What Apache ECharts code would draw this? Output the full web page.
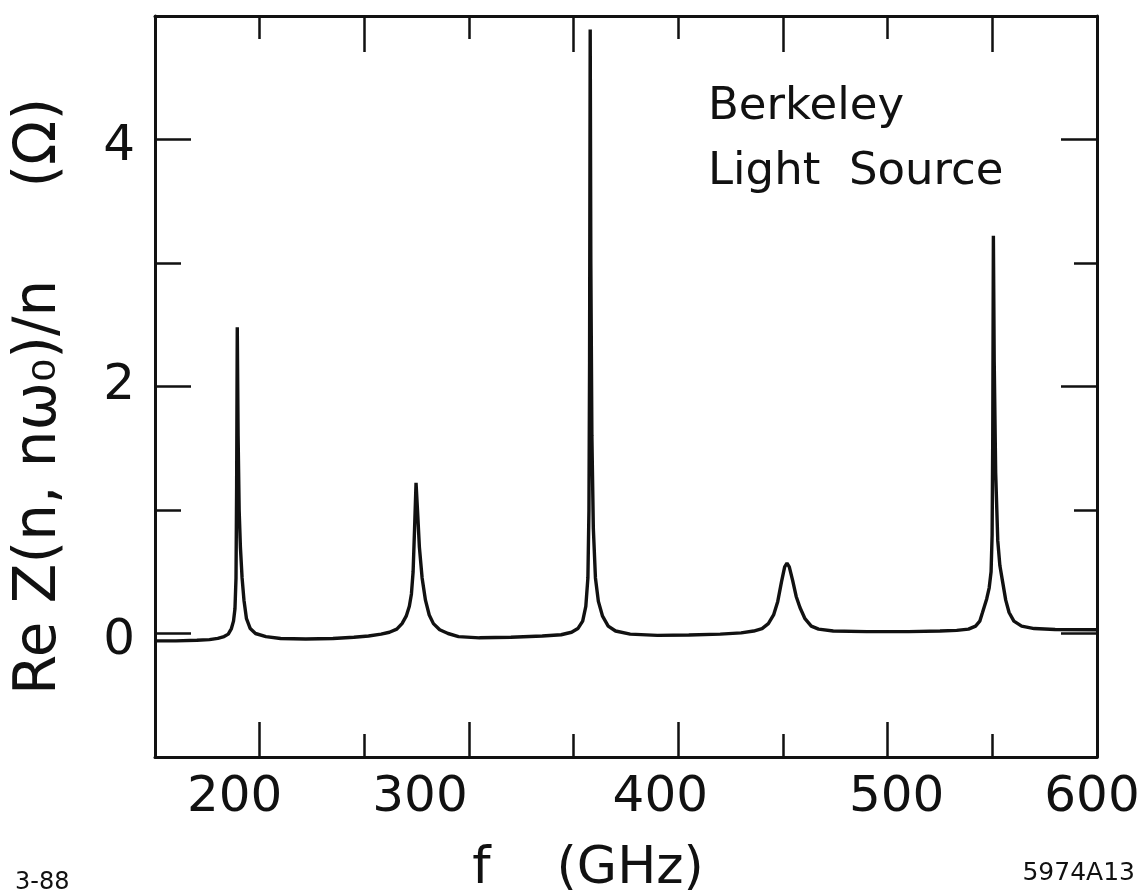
<!DOCTYPE html>
<html>
<head>
<meta charset="utf-8">
<script src="https://cdn.jsdelivr.net/npm/echarts@6/dist/echarts.min.js"></script>
<style>
  html, body { margin: 0; padding: 0; background: #fff; }
  #chart { width: 1145px; height: 896px; }
</style>
</head>
<body>
<div id="chart"></div>
<script>
// frequency (GHz) and Re Z/n (Ohm)
var freq = [
  150, 160, 170, 176, 180, 183, 185, 186.5, 187.5, 188.2, 188.7, 189.0, 189.3, 189.7, 190.2, 190.8,
  191.6, 192.5, 193.7, 195.5, 198, 203, 210, 222, 235, 245, 252, 258, 262, 265.5, 268, 270,
  271.5, 272.5, 273.3, 274, 274.7, 275.4, 276.3, 277.6, 279.2, 281, 283, 286, 290, 295, 305, 320,
  335, 344, 349, 352, 354.3, 355.8, 356.8, 357.3, 357.6, 357.9, 358.2, 358.7, 359.4, 360.4, 361.8, 363.8,
  366.5, 370, 377, 390, 405, 420, 430, 436, 440, 443, 445.5, 447.5, 449.3, 450.8, 451.9, 453,
  454.6, 456.3, 458.1, 460.5, 463.5, 467, 474, 490, 510, 525, 533, 538.6, 542, 544, 545.3, 547.3,
  548.5, 549.4, 549.9, 550.2, 550.5, 550.9, 551.6, 552.6, 553.6, 554.9, 556.4, 558, 560.3, 564, 570, 580, 600
];
var reZ = [
  -0.06, -0.06, -0.055, -0.05, -0.04, -0.025, -0.005, 0.04, 0.1, 0.2, 0.45, 1.2, 2.48, 1.6, 1.0, 0.7,
  0.45, 0.27, 0.12, 0.04, 0.0, -0.025, -0.04, -0.045, -0.04, -0.03, -0.02, -0.005, 0.01, 0.035, 0.08, 0.14,
  0.22, 0.32, 0.5, 0.85, 1.22, 1.0, 0.7, 0.45, 0.27, 0.15, 0.08, 0.03, 0.0, -0.025, -0.035, -0.03,
  -0.02, -0.01, 0.01, 0.04, 0.1, 0.22, 0.45, 1.0, 2.2, 4.89, 3.0, 1.6, 0.85, 0.45, 0.26, 0.14,
  0.06, 0.02, -0.005, -0.015, -0.012, -0.005, 0.005, 0.02, 0.04, 0.08, 0.15, 0.26, 0.42, 0.54, 0.57, 0.54,
  0.43, 0.3, 0.21, 0.12, 0.06, 0.035, 0.02, 0.015, 0.015, 0.02, 0.025, 0.035, 0.06, 0.1, 0.17, 0.28,
  0.37, 0.5, 0.8, 1.6, 3.22, 2.2, 1.3, 0.75, 0.55, 0.42, 0.27, 0.17, 0.1, 0.06, 0.04, 0.032, 0.03
];

var xLabels = [200, 300, 400, 500, 600];
var xLongTicks = [200, 300, 400, 500];
var xShortTicks = [250, 350, 450, 550];
var yLabels = [0, 2, 4];
var yLongTicks = [0, 2, 4];
var yShortTicks = [1, 3];

// hand lettering in the original is not centred on the ticks
var xLabelShift = { 200: -25, 300: -49, 400: -18, 500: 9, 600: -5 };
var yLabelShift = { 0: 8, 2: 0, 4: 8 };

var FONT = 'DejaVu Sans';
var INK = '#111';

var seriesData = [];
for (var i = 0; i < freq.length; i++) {
  seriesData.push([freq[i], reZ[i]]);
}

function shiftRich(shifts, horizontal) {
  var rich = {};
  Object.keys(shifts).forEach(function (k) {
    var s = shifts[k];
    var pad = horizontal
      ? (s < 0 ? [0, -2 * s, 0, 0] : [0, 0, 0, 2 * s])
      : (s > 0 ? [2 * s, 0, 0, 0] : [0, 0, -2 * s, 0]);
    rich['s' + k] = { fontFamily: FONT, fontSize: 50, color: INK, padding: pad };
  });
  return rich;
}

function xAxisDef(position, ticks, len, withLine, withLabel) {
  return {
    type: 'value',
    position: position,
    min: 150,
    max: 600,
    axisLine: { show: withLine, onZero: false, lineStyle: { color: INK, width: 3 } },
    axisTick: { show: true, inside: true, length: len, customValues: ticks, lineStyle: { color: INK, width: 2.5 } },
    axisLabel: withLabel ? {
      show: true,
      customValues: xLabels,
      margin: 16,
      formatter: function (v) { return '{s' + v + '|' + v + '}'; },
      rich: shiftRich(xLabelShift, true)
    } : { show: false },
    splitLine: { show: false }
  };
}

function yAxisDef(position, ticks, len, withLine, withLabel) {
  return {
    type: 'value',
    position: position,
    min: -1,
    max: 5,
    axisLine: { show: withLine, onZero: false, lineStyle: { color: INK, width: 3 } },
    axisTick: { show: true, inside: true, length: len, customValues: ticks, lineStyle: { color: INK, width: 2.5 } },
    axisLabel: withLabel ? {
      show: true,
      customValues: yLabels,
      margin: 20,
      formatter: function (v) { return '{s' + v + '|' + v + '}'; },
      rich: shiftRich(yLabelShift, false)
    } : { show: false },
    splitLine: { show: false }
  };
}

var xBottom = xAxisDef('bottom', xLongTicks, 35, true, true);
xBottom.name = 'f    (GHz)';
xBottom.nameLocation = 'middle';
xBottom.nameGap = 86;
xBottom.nameTextStyle = { fontFamily: FONT, fontSize: 52, color: INK, padding: [0, 76, 0, 0] };

var yLeft = yAxisDef('left', yLongTicks, 36, true, true);
yLeft.name = 'Re Z(n, nω\u2080)/n     (Ω)';
yLeft.nameLocation = 'middle';
yLeft.nameGap = 86;
yLeft.nameTextStyle = { fontFamily: FONT, fontSize: 58, color: INK, padding: [0, 20, 0, 0] };

var chart = echarts.init(document.getElementById('chart'));
chart.setOption({
  backgroundColor: '#fff',
  animation: false,
  grid: { left: 155, top: 16, width: 942, height: 741, show: false, outerBoundsMode: 'none', containLabel: false },
  xAxis: [
    xBottom,
    xAxisDef('bottom', xShortTicks, 23, false, false),
    xAxisDef('top', xShortTicks, 36, true, false),
    xAxisDef('top', xLongTicks, 23, false, false)
  ],
  yAxis: [
    yLeft,
    yAxisDef('left', yShortTicks, 26, false, false),
    yAxisDef('right', yLongTicks, 36, true, false),
    yAxisDef('right', yShortTicks, 23, false, false)
  ],
  series: [{
    type: 'line',
    data: seriesData,
    showSymbol: false,
    symbol: 'none',
    lineStyle: { color: INK, width: 3.4 },
    xAxisIndex: 0,
    yAxisIndex: 0
  }],
  graphic: [
    { type: 'text', left: 708, top: 85, style: { text: 'Berkeley', font: '45px "DejaVu Sans"', fill: INK } },
    { type: 'text', left: 708, top: 150, style: { text: 'Light  Source', font: '45px "DejaVu Sans"', fill: INK } },
    { type: 'text', left: 15, top: 871, style: { text: '3-88', font: '24px "DejaVu Sans"', fill: INK } },
    { type: 'text', right: 10, top: 861, style: { text: '5974A13', font: '25px "DejaVu Sans"', fill: INK } }
  ]
});
</script>
</body>
</html>
